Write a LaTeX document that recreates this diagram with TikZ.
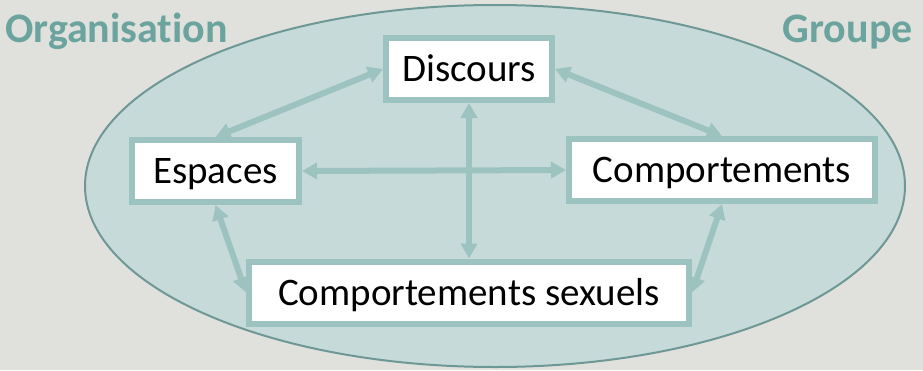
\documentclass[tikz,border=0pt]{standalone}
\usepackage{fontspec}
\setmainfont{Carlito}[Ligatures=NoCommon]
\usepackage{tikz}
\usetikzlibrary{shapes,arrows.meta,positioning}
\definecolor{bgcol}{HTML}{E0E1DC}
\definecolor{ovalfill}{HTML}{C5DAD9}
\definecolor{ovalline}{HTML}{6E9896}
\definecolor{boxline}{HTML}{9DC3C1}
\definecolor{titlecol}{HTML}{6BA39F}
\tikzstyle{arrow} = [<->, >={Triangle[length=15pt,width=16pt]}, line width=6pt, draw=boxline]
\tikzstyle{theme} = [rectangle, draw=boxline, line width=6pt, fill=white, text=black,
   minimum height=62pt, inner sep=0pt, text height=25pt, text depth=0pt,
   font=\fontsize{39}{44}\selectfont]
\tikzstyle{title} = [text=titlecol, inner sep=0pt, font=\fontsize{42}{48}\selectfont\bfseries]

\begin{document}
\begin{tikzpicture}[x=1pt, y=-1pt, node distance=223.5pt]

\useasboundingbox (0,0) rectangle (923,370);
\fill [bgcol] (0,0) rectangle (923,370);

\draw [ovalline, fill=ovalfill, line width=2pt] (495,186) ellipse [x radius=410, y radius=181];

\node (orga) [title, anchor=base west] at (5,42) {Organisat\kern0pt ion};
\node (groupe) [title, anchor=base east] at (913,42) {Groupe};

\node (discours) [theme, minimum width=166pt] at (469,69) {Discours};

\node (espaces) [theme, minimum width=167pt] at (215.5,171) {Espaces};

\node (comport) [theme, minimum width=306pt] at (722,170) {Comportements};

\node (sexuels) [theme, minimum width=440pt, below of=discours] {Comportements sexuels};

\draw [arrow] (discours.west) -- (espaces.north);
\draw [arrow] (discours.east) -- (comport.north);
\draw [arrow] (espaces.east) -- (comport.west);
\draw [arrow] (discours.south) -- (sexuels.north);
\draw [arrow] (espaces.south) -- (sexuels.west);
\draw [arrow] (comport.south) -- (sexuels.east);

\end{tikzpicture}
\end{document}
